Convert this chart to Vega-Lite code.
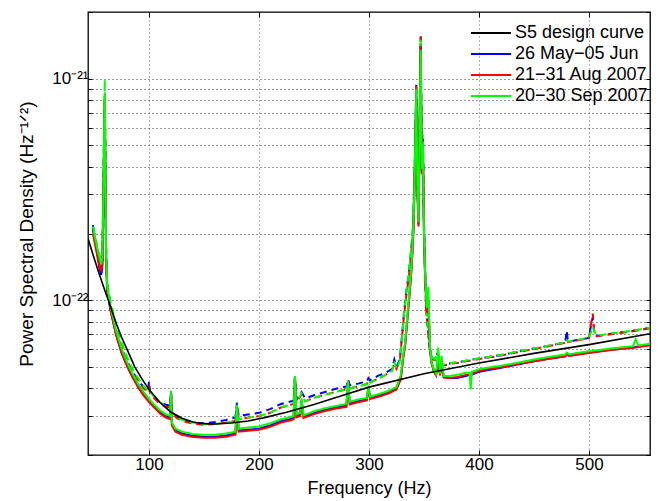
{
  "$schema": "https://vega.github.io/schema/vega-lite/v6.json",
  "width": 562,
  "height": 443,
  "autosize": {"type": "none"},
  "padding": {"left": 88, "top": 12, "right": 12, "bottom": 46},
  "background": "#ffffff",
  "config": {
    "view": {"stroke": "#000000", "strokeWidth": 1.3},
    "font": "Liberation Sans",
    "legend": {"orient": "none", "legendX": 392, "legendY": 10, "labelFontSize": 18, "labelColor": "#000", "labelFont": "Liberation Sans", "symbolType": "M-2,0H2", "symbolSize": 400, "symbolStrokeWidth": 2, "rowPadding": 1, "labelOffset": 13, "padding": 0}
  },
  "datasets": {
    "names": [
      {"k": "s", "period": "S5 design curve"},
      {"k": "b", "period": "26 May−05 Jun"},
      {"k": "r", "period": "21−31 Aug 2007"},
      {"k": "g", "period": "20−30 Sep 2007"}
    ],
    "design": [
      {"f": 44.5, "s": 1.9e-22}, {"f": 50, "s": 1.55e-22}, {"f": 55, "s": 1.3e-22}, {"f": 60, "s": 1.1e-22},
      {"f": 63, "s": 1.0e-22}, {"f": 70, "s": 7.9e-23}, {"f": 75, "s": 6.8e-23}, {"f": 80, "s": 6.0e-23},
      {"f": 87, "s": 5.0e-23}, {"f": 95, "s": 4.3e-23}, {"f": 100, "s": 3.95e-23}, {"f": 110, "s": 3.45e-23},
      {"f": 120, "s": 3.12e-23}, {"f": 130, "s": 2.93e-23}, {"f": 140, "s": 2.82e-23}, {"f": 150, "s": 2.77e-23},
      {"f": 160, "s": 2.76e-23}, {"f": 175, "s": 2.79e-23}, {"f": 190, "s": 2.85e-23}, {"f": 205, "s": 2.95e-23},
      {"f": 225, "s": 3.12e-23}, {"f": 250, "s": 3.38e-23}, {"f": 275, "s": 3.7e-23}, {"f": 300, "s": 4.05e-23},
      {"f": 350, "s": 4.65e-23}, {"f": 400, "s": 5.2e-23}, {"f": 450, "s": 5.75e-23}, {"f": 500, "s": 6.3e-23},
      {"f": 555.5, "s": 7.05e-23}
    ],
    "dashed": [
      {"f": 49, "b": 2.18e-22, "r": 2.07e-22, "g": 2.2e-22},
      {"f": 51, "b": 1.9e-22, "r": 1.82e-22, "g": 1.95e-22},
      {"f": 53, "b": 1.7e-22, "r": 1.65e-22, "g": 1.75e-22},
      {"f": 55, "b": 1.45e-22, "r": 1.5e-22, "g": 1.6e-22},
      {"f": 56.5, "b": 1.33e-22, "r": 1.4e-22, "g": 1.5e-22},
      {"f": 57.5, "b": 1.45e-22, "r": 1.5e-22, "g": 1.6e-22},
      {"f": 58.5, "b": 3.0e-22, "r": 3.2e-22, "g": 3.4e-22},
      {"f": 59.3, "b": 6.5e-22, "r": 7.0e-22, "g": 7.5e-22},
      {"f": 59.8, "b": 8.2e-22, "r": 8.6e-22, "g": 9.9e-22},
      {"f": 60.3, "b": 4.0e-22, "r": 4.2e-22, "g": 4.5e-22},
      {"f": 61, "b": 1.6e-22, "r": 1.6e-22, "g": 1.7e-22},
      {"f": 62, "b": 1.15e-22, "r": 1.15e-22, "g": 1.2e-22},
      {"f": 65, "b": 9.4e-23, "r": 9.5e-23, "g": 9.9e-23},
      {"f": 70, "b": 7.3e-23, "r": 7.4e-23, "g": 7.7e-23},
      {"f": 75, "b": 6.1e-23, "r": 6.2e-23, "g": 6.45e-23},
      {"f": 80, "b": 5.3e-23, "r": 5.35e-23, "g": 5.55e-23},
      {"f": 85, "b": 4.75e-23, "r": 4.75e-23, "g": 4.9e-23},
      {"f": 90, "b": 4.35e-23, "r": 4.3e-23, "g": 4.45e-23},
      {"f": 95, "b": 4.05e-23, "r": 4.0e-23, "g": 4.1e-23},
      {"f": 99, "b": 3.9e-23, "r": 3.85e-23, "g": 3.9e-23},
      {"f": 100, "b": 4.3e-23, "r": 4.0e-23, "g": 3.95e-23},
      {"f": 101, "b": 3.85e-23, "r": 3.8e-23, "g": 3.85e-23},
      {"f": 105, "b": 3.65e-23, "r": 3.6e-23, "g": 3.65e-23},
      {"f": 110, "b": 3.45e-23, "r": 3.4e-23, "g": 3.45e-23},
      {"f": 115, "b": 3.38e-23, "r": 3.3e-23, "g": 3.35e-23},
      {"f": 119.3, "b": 3.33e-23, "r": 3.28e-23, "g": 3.3e-23},
      {"f": 120, "b": 3.9e-23, "r": 3.85e-23, "g": 3.9e-23},
      {"f": 120.8, "b": 3.15e-23, "r": 3.1e-23, "g": 3.12e-23},
      {"f": 125, "b": 2.98e-23, "r": 2.95e-23, "g": 2.98e-23},
      {"f": 130, "b": 2.88e-23, "r": 2.85e-23, "g": 2.88e-23},
      {"f": 140, "b": 2.8e-23, "r": 2.77e-23, "g": 2.8e-23},
      {"f": 150, "b": 2.78e-23, "r": 2.74e-23, "g": 2.75e-23},
      {"f": 160, "b": 2.82e-23, "r": 2.76e-23, "g": 2.76e-23},
      {"f": 170, "b": 2.88e-23, "r": 2.8e-23, "g": 2.8e-23},
      {"f": 178.5, "b": 2.95e-23, "r": 2.85e-23, "g": 2.85e-23},
      {"f": 180, "b": 3.45e-23, "r": 3.3e-23, "g": 3.35e-23},
      {"f": 181.5, "b": 3.0e-23, "r": 2.9e-23, "g": 2.9e-23},
      {"f": 190, "b": 3.05e-23, "r": 2.95e-23, "g": 2.95e-23},
      {"f": 200, "b": 3.1e-23, "r": 3.0e-23, "g": 3.0e-23},
      {"f": 210, "b": 3.22e-23, "r": 3.1e-23, "g": 3.1e-23},
      {"f": 220, "b": 3.4e-23, "r": 3.28e-23, "g": 3.28e-23},
      {"f": 231.5, "b": 3.52e-23, "r": 3.4e-23, "g": 3.42e-23},
      {"f": 232.7, "b": 4.5e-23, "r": 4.5e-23, "g": 4.55e-23},
      {"f": 234, "b": 3.55e-23, "r": 3.45e-23, "g": 3.45e-23},
      {"f": 238.7, "b": 3.85e-23, "r": 3.75e-23, "g": 3.8e-23},
      {"f": 242, "b": 3.6e-23, "r": 3.5e-23, "g": 3.5e-23},
      {"f": 250, "b": 3.72e-23, "r": 3.62e-23, "g": 3.62e-23},
      {"f": 260, "b": 3.85e-23, "r": 3.74e-23, "g": 3.74e-23},
      {"f": 270, "b": 3.98e-23, "r": 3.86e-23, "g": 3.86e-23},
      {"f": 279.5, "b": 4.08e-23, "r": 3.96e-23, "g": 3.96e-23},
      {"f": 281, "b": 4.4e-23, "r": 4.3e-23, "g": 4.3e-23},
      {"f": 282.5, "b": 4.12e-23, "r": 4.0e-23, "g": 4.0e-23},
      {"f": 290, "b": 4.2e-23, "r": 4.08e-23, "g": 4.08e-23},
      {"f": 298, "b": 4.3e-23, "r": 4.18e-23, "g": 4.18e-23},
      {"f": 299.5, "b": 4.45e-23, "r": 4.35e-23, "g": 4.35e-23},
      {"f": 301, "b": 4.35e-23, "r": 4.25e-23, "g": 4.25e-23},
      {"f": 308, "b": 4.55e-23, "r": 4.42e-23, "g": 4.42e-23},
      {"f": 315, "b": 4.7e-23, "r": 4.6e-23, "g": 4.6e-23},
      {"f": 321, "b": 4.9e-23, "r": 4.8e-23, "g": 4.8e-23},
      {"f": 323, "b": 5.4e-23, "r": 5.2e-23, "g": 5.3e-23},
      {"f": 325, "b": 5.0e-23, "r": 4.9e-23, "g": 4.9e-23},
      {"f": 328, "b": 5.4e-23, "r": 5.3e-23, "g": 5.3e-23},
      {"f": 330, "b": 6.9e-23, "r": 6.8e-23, "g": 6.8e-23},
      {"f": 332, "b": 9.0e-23, "r": 8.7e-23, "g": 8.8e-23},
      {"f": 334, "b": 1.1e-22, "r": 1.05e-22, "g": 1.1e-22},
      {"f": 336, "b": 1.3e-22, "r": 1.25e-22, "g": 1.3e-22},
      {"f": 338, "b": 1.6e-22, "r": 1.55e-22, "g": 1.65e-22},
      {"f": 340, "b": 2.1e-22, "r": 2.0e-22, "g": 2.15e-22},
      {"f": 341, "b": 3.2e-22, "r": 3.1e-22, "g": 3.3e-22},
      {"f": 342, "b": 5.0e-22, "r": 4.8e-22, "g": 5.2e-22},
      {"f": 343, "b": 9.5e-22, "r": 9.3e-22, "g": 9.0e-22},
      {"f": 344, "b": 3.2e-22, "r": 3.1e-22, "g": 3.3e-22},
      {"f": 345, "b": 2.6e-22, "r": 2.5e-22, "g": 2.7e-22},
      {"f": 346, "b": 6.0e-22, "r": 5.8e-22, "g": 6.2e-22},
      {"f": 347, "b": 1.55e-21, "r": 1.55e-21, "g": 1.5e-21},
      {"f": 348, "b": 4.0e-22, "r": 3.9e-22, "g": 4.1e-22},
      {"f": 349, "b": 5.5e-22, "r": 5.4e-22, "g": 5.6e-22},
      {"f": 350, "b": 2.2e-22, "r": 2.1e-22, "g": 2.3e-22},
      {"f": 351, "b": 1.4e-22, "r": 1.35e-22, "g": 1.45e-22},
      {"f": 352, "b": 9.0e-23, "r": 8.8e-23, "g": 9.2e-23},
      {"f": 353.5, "b": 7.5e-23, "r": 7.4e-23, "g": 7.6e-23},
      {"f": 355, "b": 6.2e-23, "r": 6.1e-23, "g": 6.3e-23},
      {"f": 357, "b": 5.5e-23, "r": 5.45e-23, "g": 5.55e-23},
      {"f": 360, "b": 5.4e-23, "r": 5.35e-23, "g": 5.4e-23},
      {"f": 362.5, "b": 5.8e-23, "r": 5.7e-23, "g": 5.9e-23},
      {"f": 365, "b": 5.1e-23, "r": 5.08e-23, "g": 5.12e-23},
      {"f": 370, "b": 5.12e-23, "r": 5.1e-23, "g": 5.14e-23},
      {"f": 375, "b": 5.2e-23, "r": 5.17e-23, "g": 5.2e-23},
      {"f": 382, "b": 5.25e-23, "r": 5.22e-23, "g": 5.26e-23},
      {"f": 390, "b": 5.35e-23, "r": 5.32e-23, "g": 5.36e-23},
      {"f": 400, "b": 5.45e-23, "r": 5.42e-23, "g": 5.46e-23},
      {"f": 410, "b": 5.55e-23, "r": 5.52e-23, "g": 5.56e-23},
      {"f": 420, "b": 5.65e-23, "r": 5.62e-23, "g": 5.66e-23},
      {"f": 435, "b": 5.85e-23, "r": 5.82e-23, "g": 5.86e-23},
      {"f": 450, "b": 6.05e-23, "r": 6.02e-23, "g": 6.06e-23},
      {"f": 465, "b": 6.25e-23, "r": 6.22e-23, "g": 6.26e-23},
      {"f": 478.5, "b": 6.45e-23, "r": 6.42e-23, "g": 6.46e-23},
      {"f": 479.7, "b": 7.3e-23, "r": 6.7e-23, "g": 6.6e-23},
      {"f": 481, "b": 6.5e-23, "r": 6.47e-23, "g": 6.5e-23},
      {"f": 490, "b": 6.62e-23, "r": 6.6e-23, "g": 6.63e-23},
      {"f": 500, "b": 6.75e-23, "r": 6.72e-23, "g": 6.76e-23},
      {"f": 502, "b": 7.8e-23, "r": 7.9e-23, "g": 7.2e-23},
      {"f": 503.5, "b": 8.4e-23, "r": 8.7e-23, "g": 7.6e-23},
      {"f": 505, "b": 7.0e-23, "r": 7.1e-23, "g": 7.2e-23},
      {"f": 507, "b": 6.9e-23, "r": 6.88e-23, "g": 6.92e-23},
      {"f": 520, "b": 7.05e-23, "r": 7.02e-23, "g": 7.06e-23},
      {"f": 540, "b": 7.27e-23, "r": 7.24e-23, "g": 7.28e-23},
      {"f": 555.5, "b": 7.5e-23, "r": 7.47e-23, "g": 7.52e-23}
    ],
    "solid": [
      {"f": 49, "b": 2.1e-22, "r": 2.0e-22, "g": 2.15e-22},
      {"f": 51, "b": 1.85e-22, "r": 1.78e-22, "g": 1.9e-22},
      {"f": 53, "b": 1.62e-22, "r": 1.58e-22, "g": 1.7e-22},
      {"f": 55, "b": 1.38e-22, "r": 1.42e-22, "g": 1.55e-22},
      {"f": 56.5, "b": 1.3e-22, "r": 1.35e-22, "g": 1.45e-22},
      {"f": 57.5, "b": 1.4e-22, "r": 1.45e-22, "g": 1.55e-22},
      {"f": 58.5, "b": 2.6e-22, "r": 2.8e-22, "g": 3.0e-22},
      {"f": 59.3, "b": 5.5e-22, "r": 6.0e-22, "g": 6.5e-22},
      {"f": 59.8, "b": 7.5e-22, "r": 8.0e-22, "g": 8.5e-22},
      {"f": 60.3, "b": 3.5e-22, "r": 3.8e-22, "g": 4.0e-22},
      {"f": 61, "b": 1.5e-22, "r": 1.5e-22, "g": 1.6e-22},
      {"f": 62, "b": 1.1e-22, "r": 1.1e-22, "g": 1.15e-22},
      {"f": 65, "b": 9.0e-23, "r": 9.0e-23, "g": 9.4e-23},
      {"f": 70, "b": 7.0e-23, "r": 7.0e-23, "g": 7.3e-23},
      {"f": 75, "b": 5.8e-23, "r": 5.8e-23, "g": 6.05e-23},
      {"f": 80, "b": 5.05e-23, "r": 5.05e-23, "g": 5.25e-23},
      {"f": 85, "b": 4.5e-23, "r": 4.5e-23, "g": 4.65e-23},
      {"f": 90, "b": 4.08e-23, "r": 4.05e-23, "g": 4.2e-23},
      {"f": 95, "b": 3.75e-23, "r": 3.72e-23, "g": 3.85e-23},
      {"f": 100, "b": 3.5e-23, "r": 3.47e-23, "g": 3.58e-23},
      {"f": 105, "b": 3.3e-23, "r": 3.27e-23, "g": 3.36e-23},
      {"f": 110, "b": 3.12e-23, "r": 3.08e-23, "g": 3.18e-23},
      {"f": 115, "b": 3.0e-23, "r": 2.96e-23, "g": 3.05e-23},
      {"f": 119.3, "b": 2.95e-23, "r": 2.9e-23, "g": 3.0e-23},
      {"f": 120, "b": 3.8e-23, "r": 3.75e-23, "g": 3.8e-23},
      {"f": 120.8, "b": 2.75e-23, "r": 2.72e-23, "g": 2.8e-23},
      {"f": 124, "b": 2.58e-23, "r": 2.55e-23, "g": 2.63e-23},
      {"f": 130, "b": 2.5e-23, "r": 2.47e-23, "g": 2.55e-23},
      {"f": 140, "b": 2.44e-23, "r": 2.41e-23, "g": 2.49e-23},
      {"f": 150, "b": 2.42e-23, "r": 2.39e-23, "g": 2.47e-23},
      {"f": 160, "b": 2.42e-23, "r": 2.39e-23, "g": 2.47e-23},
      {"f": 170, "b": 2.45e-23, "r": 2.42e-23, "g": 2.5e-23},
      {"f": 178.5, "b": 2.5e-23, "r": 2.47e-23, "g": 2.55e-23},
      {"f": 180, "b": 3.3e-23, "r": 3.25e-23, "g": 3.35e-23},
      {"f": 181.5, "b": 2.58e-23, "r": 2.55e-23, "g": 2.63e-23},
      {"f": 190, "b": 2.6e-23, "r": 2.57e-23, "g": 2.66e-23},
      {"f": 200, "b": 2.63e-23, "r": 2.6e-23, "g": 2.69e-23},
      {"f": 210, "b": 2.72e-23, "r": 2.68e-23, "g": 2.78e-23},
      {"f": 220, "b": 2.84e-23, "r": 2.8e-23, "g": 2.9e-23},
      {"f": 228, "b": 2.9e-23, "r": 2.86e-23, "g": 2.96e-23},
      {"f": 231.5, "b": 2.95e-23, "r": 2.9e-23, "g": 3.0e-23},
      {"f": 232.7, "b": 4.5e-23, "r": 4.45e-23, "g": 4.55e-23},
      {"f": 234, "b": 3.0e-23, "r": 2.96e-23, "g": 3.05e-23},
      {"f": 237.5, "b": 3.05e-23, "r": 3.0e-23, "g": 3.1e-23},
      {"f": 238.7, "b": 3.55e-23, "r": 3.5e-23, "g": 3.6e-23},
      {"f": 240.5, "b": 2.98e-23, "r": 2.94e-23, "g": 3.02e-23},
      {"f": 250, "b": 3.1e-23, "r": 3.06e-23, "g": 3.15e-23},
      {"f": 260, "b": 3.2e-23, "r": 3.16e-23, "g": 3.25e-23},
      {"f": 270, "b": 3.28e-23, "r": 3.24e-23, "g": 3.33e-23},
      {"f": 279.5, "b": 3.35e-23, "r": 3.3e-23, "g": 3.4e-23},
      {"f": 281, "b": 4.2e-23, "r": 4.15e-23, "g": 4.25e-23},
      {"f": 282.5, "b": 3.42e-23, "r": 3.38e-23, "g": 3.48e-23},
      {"f": 290, "b": 3.5e-23, "r": 3.46e-23, "g": 3.56e-23},
      {"f": 298, "b": 3.57e-23, "r": 3.53e-23, "g": 3.62e-23},
      {"f": 299.5, "b": 4.05e-23, "r": 4.0e-23, "g": 4.1e-23},
      {"f": 301, "b": 3.62e-23, "r": 3.58e-23, "g": 3.67e-23},
      {"f": 310, "b": 3.72e-23, "r": 3.68e-23, "g": 3.78e-23},
      {"f": 318, "b": 3.85e-23, "r": 3.8e-23, "g": 3.9e-23},
      {"f": 325, "b": 4.0e-23, "r": 3.95e-23, "g": 4.05e-23},
      {"f": 329, "b": 4.5e-23, "r": 4.4e-23, "g": 4.6e-23},
      {"f": 331, "b": 5.5e-23, "r": 5.4e-23, "g": 5.6e-23},
      {"f": 333, "b": 6.4e-23, "r": 6.3e-23, "g": 6.5e-23},
      {"f": 335, "b": 8.5e-23, "r": 8.3e-23, "g": 8.7e-23},
      {"f": 337, "b": 1.1e-22, "r": 1.07e-22, "g": 1.13e-22},
      {"f": 339, "b": 1.5e-22, "r": 1.45e-22, "g": 1.55e-22},
      {"f": 340.5, "b": 2.2e-22, "r": 2.1e-22, "g": 2.3e-22},
      {"f": 341.5, "b": 3.5e-22, "r": 3.4e-22, "g": 3.6e-22},
      {"f": 343, "b": 8.5e-22, "r": 8.3e-22, "g": 8.7e-22},
      {"f": 344, "b": 3.2e-22, "r": 3.1e-22, "g": 3.3e-22},
      {"f": 345, "b": 2.2e-22, "r": 2.15e-22, "g": 2.25e-22},
      {"f": 346, "b": 5.5e-22, "r": 5.4e-22, "g": 5.6e-22},
      {"f": 347, "b": 1.4e-21, "r": 1.4e-21, "g": 1.35e-21},
      {"f": 348, "b": 3.8e-22, "r": 3.7e-22, "g": 3.9e-22},
      {"f": 349, "b": 5.0e-22, "r": 4.9e-22, "g": 5.1e-22},
      {"f": 350, "b": 2.0e-22, "r": 1.95e-22, "g": 2.05e-22},
      {"f": 351, "b": 1.3e-22, "r": 1.27e-22, "g": 1.33e-22},
      {"f": 352.5, "b": 9.0e-23, "r": 8.8e-23, "g": 9.2e-23},
      {"f": 354, "b": 1.0e-22, "r": 9.5e-23, "g": 1.15e-22},
      {"f": 355.5, "b": 6.0e-23, "r": 5.9e-23, "g": 6.1e-23},
      {"f": 357, "b": 5.2e-23, "r": 5.15e-23, "g": 5.25e-23},
      {"f": 359, "b": 4.8e-23, "r": 4.75e-23, "g": 4.85e-23},
      {"f": 361, "b": 4.6e-23, "r": 4.57e-23, "g": 4.65e-23},
      {"f": 363, "b": 5.5e-23, "r": 5.6e-23, "g": 6.1e-23},
      {"f": 364.5, "b": 4.6e-23, "r": 4.57e-23, "g": 4.65e-23},
      {"f": 366, "b": 5.0e-23, "r": 5.1e-23, "g": 5.6e-23},
      {"f": 368, "b": 4.5e-23, "r": 4.47e-23, "g": 4.55e-23},
      {"f": 373, "b": 4.45e-23, "r": 4.45e-23, "g": 4.55e-23},
      {"f": 380, "b": 4.45e-23, "r": 4.5e-23, "g": 4.6e-23},
      {"f": 388, "b": 4.55e-23, "r": 4.6e-23, "g": 4.7e-23},
      {"f": 391.5, "b": 4.6e-23, "r": 4.62e-23, "g": 4.7e-23},
      {"f": 392.5, "b": 4.6e-23, "r": 4.62e-23, "g": 3.95e-23},
      {"f": 393.5, "b": 4.62e-23, "r": 4.65e-23, "g": 4.75e-23},
      {"f": 400, "b": 4.75e-23, "r": 4.8e-23, "g": 4.88e-23},
      {"f": 410, "b": 4.85e-23, "r": 4.9e-23, "g": 4.98e-23},
      {"f": 420, "b": 4.95e-23, "r": 4.98e-23, "g": 5.06e-23},
      {"f": 435, "b": 5.12e-23, "r": 5.15e-23, "g": 5.22e-23},
      {"f": 450, "b": 5.3e-23, "r": 5.3e-23, "g": 5.4e-23},
      {"f": 465, "b": 5.45e-23, "r": 5.45e-23, "g": 5.55e-23},
      {"f": 478.5, "b": 5.58e-23, "r": 5.58e-23, "g": 5.68e-23},
      {"f": 480, "b": 5.75e-23, "r": 5.7e-23, "g": 5.8e-23},
      {"f": 482, "b": 5.62e-23, "r": 5.6e-23, "g": 5.7e-23},
      {"f": 500, "b": 5.8e-23, "r": 5.78e-23, "g": 5.88e-23},
      {"f": 520, "b": 5.98e-23, "r": 5.95e-23, "g": 6.05e-23},
      {"f": 540, "b": 6.12e-23, "r": 6.1e-23, "g": 6.2e-23},
      {"f": 542.5, "b": 6.14e-23, "r": 6.12e-23, "g": 6.65e-23},
      {"f": 545, "b": 6.18e-23, "r": 6.15e-23, "g": 6.25e-23},
      {"f": 555.5, "b": 6.28e-23, "r": 6.26e-23, "g": 6.36e-23}
    ]
  },
  "resolve": {"axis": {"x": "independent", "y": "independent"}},
  "layer": [
    {
      "data": {"name": "dashed"},
      "transform": [
        {"fold": ["b"], "as": ["k", "v"]},
        {"lookup": "k", "from": {"data": {"name": "names"}, "key": "k", "fields": ["period"]}}
      ],
      "mark": {"type": "line", "strokeWidth": 2, "strokeDash": [7, 5], "strokeDashOffset": 0, "clip": true},
      "encoding": {
        "x": {"field": "f", "type": "quantitative", "scale": {"domain": [44.5, 555.5], "nice": false, "zero": false},
              "axis": {"orient": "top", "values": [100, 200, 300, 400, 500], "labels": false, "grid": false, "domain": false, "tickSize": -5, "tickColor": "#000", "title": null}},
        "y": {"field": "v", "type": "quantitative", "scale": {"type": "log", "domain": [2e-23, 2e-21], "nice": false},
              "axis": {"orient": "right", "values": [2e-23, 3e-23, 4e-23, 5e-23, 6e-23, 7e-23, 8e-23, 9e-23, 1e-22, 2e-22, 3e-22, 4e-22, 5e-22, 6e-22, 7e-22, 8e-22, 9e-22, 1e-21, 2e-21], "labels": false, "grid": false, "domain": false, "tickSize": -4, "tickColor": "#000", "title": null}},
        "color": {"field": "period", "type": "nominal", "title": null,
                  "scale": {"domain": ["S5 design curve", "26 May−05 Jun", "21−31 Aug 2007", "20−30 Sep 2007"], "range": ["#000000", "#0000ff", "#ff0000", "#00ff00"]}}
      }
    },
    {
      "data": {"name": "dashed"},
      "transform": [
        {"fold": ["r"], "as": ["k", "v"]},
        {"lookup": "k", "from": {"data": {"name": "names"}, "key": "k", "fields": ["period"]}}
      ],
      "mark": {"type": "line", "strokeWidth": 2, "strokeDash": [7, 5], "strokeDashOffset": 4, "clip": true},
      "encoding": {
        "x": {"field": "f", "type": "quantitative", "axis": null},
        "y": {"field": "v", "type": "quantitative", "axis": null},
        "color": {"field": "period", "type": "nominal", "title": null}
      }
    },
    {
      "data": {"name": "dashed"},
      "transform": [
        {"fold": ["g"], "as": ["k", "v"]},
        {"lookup": "k", "from": {"data": {"name": "names"}, "key": "k", "fields": ["period"]}}
      ],
      "mark": {"type": "line", "strokeWidth": 2, "strokeDash": [7, 5], "strokeDashOffset": 8, "clip": true},
      "encoding": {
        "x": {"field": "f", "type": "quantitative", "axis": null},
        "y": {"field": "v", "type": "quantitative", "axis": null},
        "color": {"field": "period", "type": "nominal", "title": null}
      }
    },
    {
      "data": {"name": "solid"},
      "transform": [
        {"fold": ["b", "r", "g"], "as": ["k", "v"]},
        {"lookup": "k", "from": {"data": {"name": "names"}, "key": "k", "fields": ["period"]}}
      ],
      "mark": {"type": "line", "strokeWidth": 2, "clip": true},
      "encoding": {
        "x": {"field": "f", "type": "quantitative", "axis": null},
        "y": {"field": "v", "type": "quantitative", "axis": null},
        "color": {"field": "period", "type": "nominal", "title": null}
      }
    },
    {
      "data": {"name": "design"},
      "transform": [
        {"fold": ["s"], "as": ["k", "v"]},
        {"lookup": "k", "from": {"data": {"name": "names"}, "key": "k", "fields": ["period"]}}
      ],
      "mark": {"type": "line", "strokeWidth": 1.6, "clip": true},
      "encoding": {
        "x": {"field": "f", "type": "quantitative",
              "axis": {"orient": "bottom", "values": [100, 200, 300, 400, 500], "grid": true, "gridDash": [1, 3], "gridColor": "#666", "gridWidth": 1, "domain": false, "tickSize": -5, "tickColor": "#000", "labelFontSize": 17, "labelColor": "#000", "labelFont": "Liberation Sans", "labelPadding": 6, "title": "Frequency (Hz)", "titleFontSize": 18, "titleFontWeight": "normal", "titleFont": "Liberation Sans", "titleColor": "#000", "titlePadding": 7}},
        "y": {"field": "v", "type": "quantitative",
              "axis": {"orient": "left", "values": [2e-23, 3e-23, 4e-23, 5e-23, 6e-23, 7e-23, 8e-23, 9e-23, 1e-22, 2e-22, 3e-22, 4e-22, 5e-22, 6e-22, 7e-22, 8e-22, 9e-22, 1e-21, 2e-21], "grid": true, "gridDash": [1, 3], "gridColor": "#333", "gridWidth": 1, "domain": false, "tickSize": -4, "tickColor": "#000",
                       "labelExpr": "abs(log(datum.value)/LN10 + 21) < 0.01 ? '10⁻²¹' : (abs(log(datum.value)/LN10 + 22) < 0.01 ? '10⁻²²' : '')",
                       "labelFontSize": 17, "labelColor": "#000", "labelFont": "Liberation Sans", "labelPadding": 4, "title": "Power Spectral Density (Hz⁻¹ᐟ²)", "titleFontSize": 19, "titleFontWeight": "normal", "titleFont": "Liberation Sans", "titleColor": "#000", "titlePadding": 15}},
        "color": {"field": "period", "type": "nominal", "title": null}
      }
    }
  ]
}
